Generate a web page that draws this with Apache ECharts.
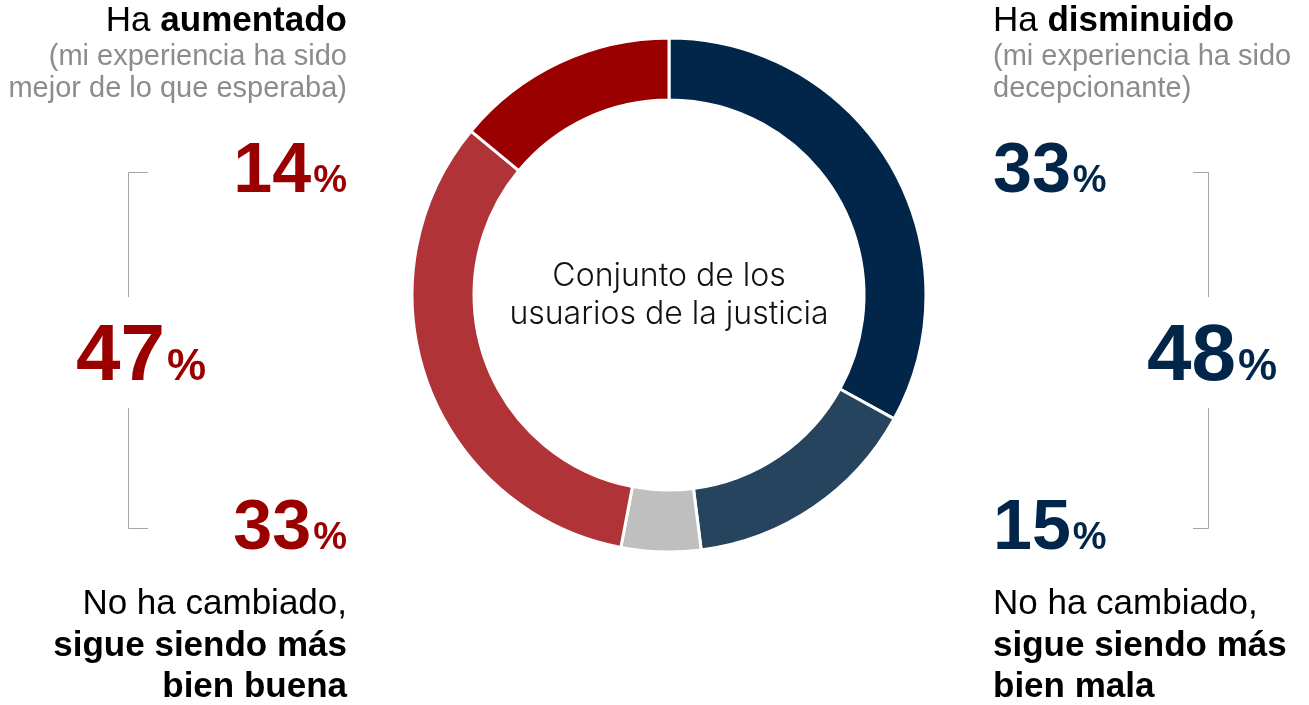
<!DOCTYPE html>
<html>
<head>
<meta charset="utf-8">
<script src="https://cdn.jsdelivr.net/npm/echarts@6/dist/echarts.min.js"></script>
<style>
  html, body { margin: 0; padding: 0; background: #fff; }
  #chart { width: 1309px; height: 705px; }
</style>
</head>
<body>
<div id="chart"></div>
<script>
// Slices, clockwise from 12 o'clock
const sliceNames = [
  'Ha disminuido',
  'No ha cambiado, sigue siendo más bien mala',
  'Sin respuesta',
  'No ha cambiado, sigue siendo más bien buena',
  'Ha aumentado'
]
const sliceValues = [33, 15, 5, 33, 14]
const sliceColors = ['#022649', '#27445F', '#BFBFBF', '#B03337', '#9B0000']

// Side figures
const leftTotal = 47
const rightTotal = 48

const RED = '#9B0000'
const NAVY = '#022649'
const SANS = '"Liberation Sans", Arial, sans-serif'
const DESC = 0.212 // text sits this much (x font size) above the box bottom

function rich(fs, weight, color, family) {
  return { fontSize: fs, fontWeight: weight, fill: color, fontFamily: family || SANS, verticalAlign: 'bottom' }
}

// y is the wanted baseline, fs the biggest font size on the line
function line(x, y, fs, align, text, styles) {
  return {
    type: 'text', x: x, y: Math.round(y + fs * DESC), silent: true,
    style: { text: text, align: align, verticalAlign: 'bottom', rich: styles }
  }
}

function bigNum(x, y, align, value, color, nFs, pFs) {
  const p = rich(pFs, 'bold', color)
  p.padding = [0, 0, Math.round((nFs - pFs) * DESC), 2]
  return line(x, y, nFs, align, '{n|' + value + '}{p|%}', { n: rich(nFs, 'bold', color), p: p })
}

const headStyles = { r: rich(35, 'normal', '#000'), b: rich(35, 'bold', '#000') }
const grayStyles = { g: rich(29, 'normal', '#8C8C8C') }
const centerStyles = { c: rich(32, 300, '#111', 'Inter') }

const chart = echarts.init(document.getElementById('chart'))

chart.setOption({
  animation: false,
  series: [{
    type: 'pie',
    silent: true,
    center: [669, 295],
    radius: [195, 257],
    startAngle: 90,
    clockwise: true,
    label: { show: false },
    labelLine: { show: false },
    itemStyle: { borderColor: '#fff', borderWidth: 3 },
    data: sliceValues.map((v, i) => ({ name: sliceNames[i], value: v, itemStyle: { color: sliceColors[i] } }))
  }],
  graphic: [
    // centre caption
    line(669, 286, 28, 'center', '{c|Conjunto de los}', centerStyles),
    line(669, 324, 28, 'center', '{c|usuarios de la justicia}', centerStyles),

    // left column
    line(347, 32, 35, 'right', '{r|Ha }{b|aumentado}', headStyles),
    line(347, 65, 29, 'right', '{g|(mi experiencia ha sido}', grayStyles),
    line(347, 97, 29, 'right', '{g|mejor de lo que esperaba)}', grayStyles),
    bigNum(347, 193, 'right', sliceValues[4], RED, 70, 38),
    bigNum(76, 381, 'left', leftTotal, RED, 80, 44),
    bigNum(347, 550, 'right', sliceValues[3], RED, 70, 38),
    line(347, 615, 35, 'right', '{r|No ha cambiado,}', headStyles),
    line(347, 657, 35, 'right', '{b|sigue siendo más}', headStyles),
    line(347, 698, 35, 'right', '{b|bien buena}', headStyles),

    // right column
    line(993, 32, 35, 'left', '{r|Ha }{b|disminuido}', headStyles),
    line(993, 65, 29, 'left', '{g|(mi experiencia ha sido}', grayStyles),
    line(993, 97, 29, 'left', '{g|decepcionante)}', grayStyles),
    bigNum(993, 193, 'left', sliceValues[0], NAVY, 70, 38),
    bigNum(1277, 381, 'right', rightTotal, NAVY, 80, 44),
    bigNum(993, 550, 'left', sliceValues[1], NAVY, 70, 38),
    line(993, 615, 35, 'left', '{r|No ha cambiado,}', headStyles),
    line(993, 657, 35, 'left', '{b|sigue siendo más}', headStyles),
    line(993, 698, 35, 'left', '{b|bien mala}', headStyles),

    // brackets
    { type: 'polyline', silent: true, shape: { points: [[148, 172.5], [128.5, 172.5], [128.5, 297]] }, style: { stroke: '#A6A6A6', lineWidth: 1, fill: null } },
    { type: 'polyline', silent: true, shape: { points: [[128.5, 408], [128.5, 528.5], [148, 528.5]] }, style: { stroke: '#A6A6A6', lineWidth: 1, fill: null } },
    { type: 'polyline', silent: true, shape: { points: [[1193, 172.5], [1208.5, 172.5], [1208.5, 297]] }, style: { stroke: '#A6A6A6', lineWidth: 1, fill: null } },
    { type: 'polyline', silent: true, shape: { points: [[1208.5, 408], [1208.5, 528.5], [1193, 528.5]] }, style: { stroke: '#A6A6A6', lineWidth: 1, fill: null } }
  ]
})
</script>
</body>
</html>
